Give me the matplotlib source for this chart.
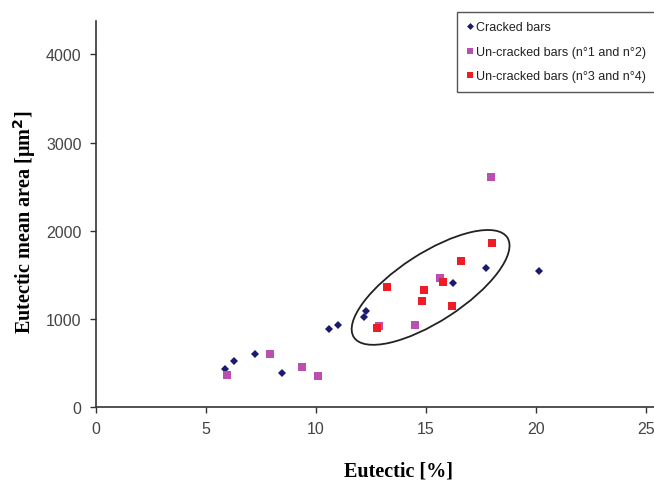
import numpy as np
import matplotlib.pyplot as plt
from matplotlib.patches import Ellipse
from matplotlib.lines import Line2D
from matplotlib.transforms import ScaledTranslation

# cracked bars
cracked_x = [5.88, 6.30, 7.24, 8.48, 10.61, 10.99, 12.20, 12.30, 16.23, 17.72, 20.14]
cracked_y = [431, 525, 601, 385, 888, 933, 1017, 1092, 1406, 1576, 1538]

# un-cracked bars n1 and n2
unc12_x = [5.97, 7.92, 9.37, 10.08, 12.86, 14.51, 15.65, 17.96]
unc12_y = [366, 605, 457, 351, 922, 930, 1466, 2611]

# un-cracked bars n3 and n4
unc34_x = [12.79, 13.21, 14.81, 14.92, 15.77, 16.16, 16.58, 18.00]
unc34_y = [892, 1357, 1202, 1330, 1414, 1149, 1659, 1856]

labels = ["Cracked bars", "Un-cracked bars (n\u00b01 and n\u00b02)", "Un-cracked bars (n\u00b03 and n\u00b04)"]
colors = ["#1c1a6e", "#bb4fb0", "#ee1c24"]

xticks = [0, 5, 10, 15, 20, 25]
yticks = [0, 1000, 2000, 3000, 4000]

fig = plt.figure(figsize=(6.54, 4.81), dpi=100)
ax = fig.add_axes([95.5 / 654, 1 - 408 / 481, 1 - 95.5 / 654, (408 - 22) / 481])

ax.plot(cracked_x, cracked_y, "D", color=colors[0], markersize=4.2, markeredgewidth=0)
ax.plot(unc12_x, unc12_y, "s", color=colors[1], markersize=5.8, markeredgewidth=0)
ax.plot(unc34_x, unc34_y, "s", color=colors[2], markersize=6.3, markeredgewidth=0)

ax.set_xlim(0, 25.35)
ax.set_ylim(0, 4380)
ax.set_xticks(xticks)
ax.set_yticks(yticks)
ax.spines["top"].set_visible(False)
ax.spines["right"].set_visible(False)
for s in ["left", "bottom"]:
    ax.spines[s].set_color("#333333")
    ax.spines[s].set_linewidth(1.2)
ax.tick_params(direction="out", length=4, width=1, color="#333333",
               labelsize=11.5, labelcolor="#444444", pad=6)
for lab in ax.get_xticklabels() + ax.get_yticklabels():
    lab.set_fontfamily("Liberation Sans")

# ellipse around the n3/n4 group (size in pixels at 100 dpi)
ell = Ellipse((0, 0), width=1.83, height=0.68, angle=33, fill=False,
              edgecolor="#222222", linewidth=1.3,
              transform=fig.dpi_scale_trans + ScaledTranslation(15.21, 1357, ax.transData))
ax.add_patch(ell)

fig.text(25 / 654, 1 - 222 / 481, "Eutectic mean area [\u00b5m$^\\mathbf{2}$]", rotation=90,
         ha="center", va="center", fontsize=14.5, fontweight="bold",
         family="Liberation Serif")
fig.text(398 / 654, 1 - 472 / 481, "Eutectic [%]", ha="center", va="center",
         fontsize=14.5, fontweight="bold", family="Liberation Serif")

handles = [
    Line2D([], [], marker="D", ls="", color=colors[0], markersize=3.5, markeredgewidth=0),
    Line2D([], [], marker="s", ls="", color=colors[1], markersize=4.5, markeredgewidth=0),
    Line2D([], [], marker="s", ls="", color=colors[2], markersize=4.5, markeredgewidth=0),
]
leg = fig.legend(handles, labels, loc="upper left",
                 bbox_to_anchor=(457 / 654, 1 - 13 / 481), bbox_transform=fig.transFigure,
                 prop={"family": "Liberation Sans", "size": 9},
                 fancybox=False, framealpha=1, edgecolor="#555555",
                 handlelength=0.5, handletextpad=0.3, labelspacing=1.0,
                 borderpad=0.75, borderaxespad=0)
leg.get_frame().set_linewidth(1.0)
for t in leg.get_texts():
    t.set_color("#222222")

plt.savefig("out.png", dpi=100)
